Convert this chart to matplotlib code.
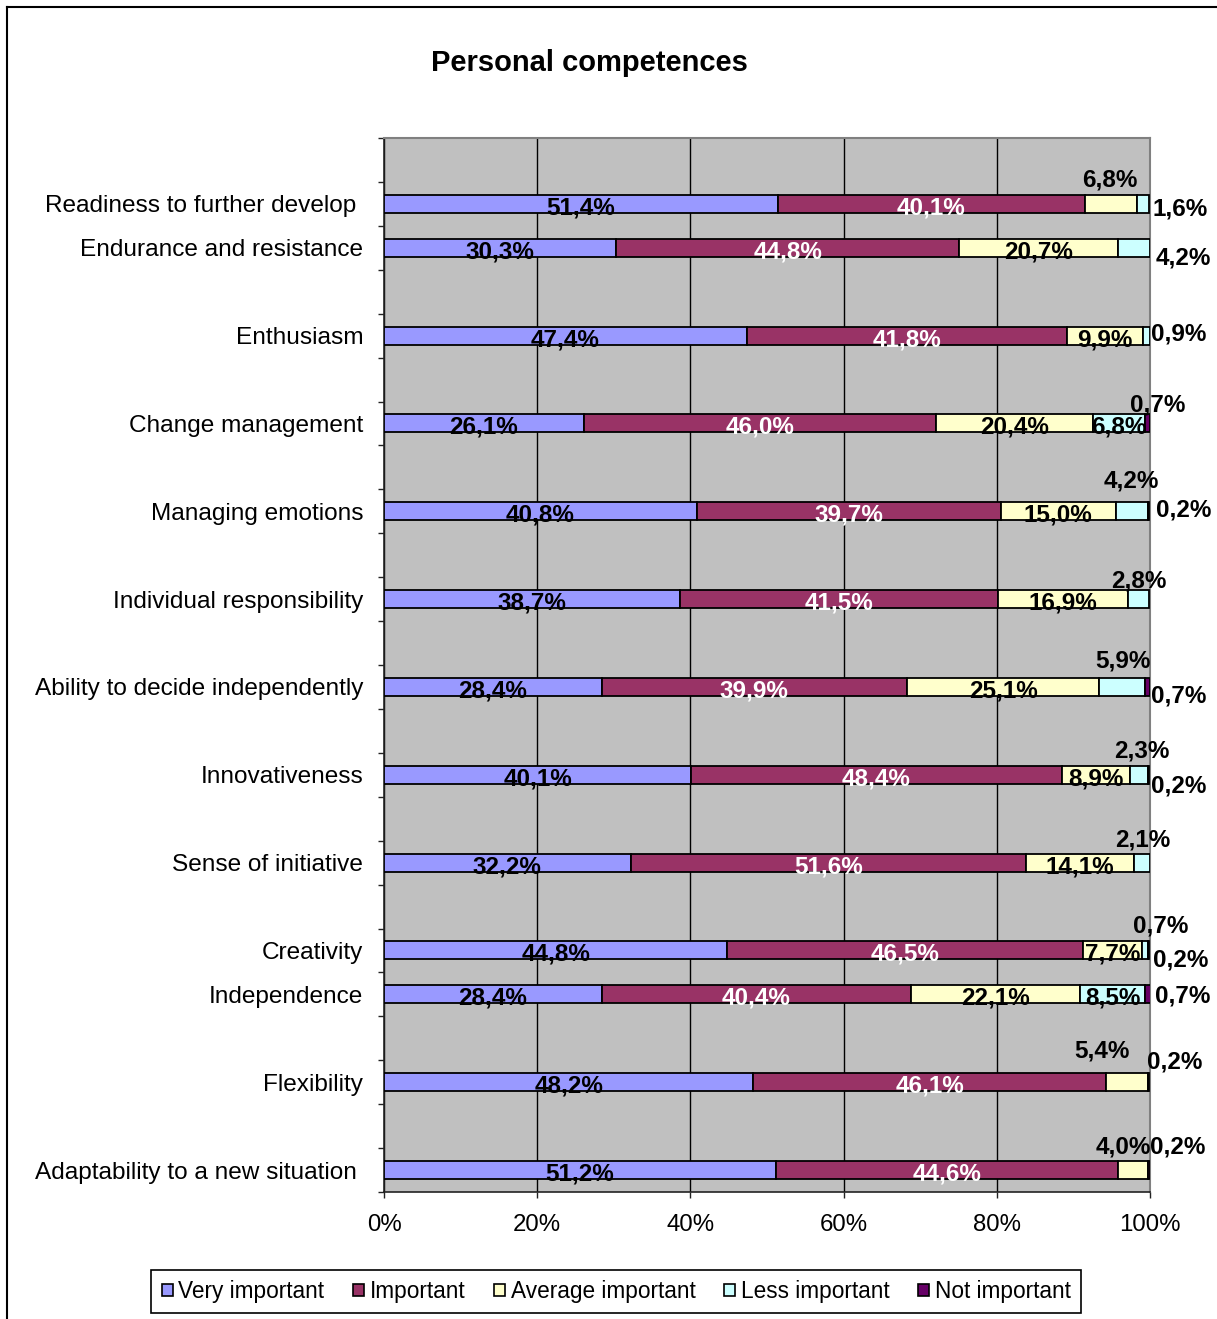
import matplotlib
matplotlib.use("Agg")
import matplotlib.pyplot as plt
from matplotlib.patches import Patch
from matplotlib.lines import Line2D
from matplotlib.ticker import FixedLocator

plt.rcParams['font.family'] = ['Liberation Sans', 'DejaVu Sans']

# ---------------- data ----------------
categories = ["Readiness to further develop ", "Endurance and resistance", "Enthusiasm",
              "Change management", "Managing emotions", "Individual responsibility",
              "Ability to decide independently", "Innovativeness", "Sense of initiative",
              "Creativity", "Independence", "Flexibility", "Adaptability to a new situation "]
series_names = ["Very important", "Important", "Average important", "Less important", "Not important"]
very_important = [51.4, 30.3, 47.4, 26.1, 40.8, 38.7, 28.4, 40.1, 32.2, 44.8, 28.4, 48.2, 51.2]
important = [40.1, 44.8, 41.8, 46.0, 39.7, 41.5, 39.9, 48.4, 51.6, 46.5, 40.4, 46.1, 44.6]
average_important = [6.8, 20.7, 9.9, 20.4, 15.0, 16.9, 25.1, 8.9, 14.1, 7.7, 22.1, 5.4, 4.0]
less_important = [1.6, 4.2, 0.9, 6.8, 4.2, 2.8, 5.9, 2.3, 2.1, 0.7, 8.5, 0.0, 0.0]
not_important = [0.0, 0.0, 0.0, 0.7, 0.2, 0.0, 0.7, 0.2, 0.0, 0.2, 0.7, 0.2, 0.2]
x_ticks = [0, 20, 40, 60, 80, 100]

# ---------------- layout / style ----------------
slot_index = [1, 2, 4, 6, 8, 10, 12, 14, 16, 18, 19, 21, 23]   # category slot on the axis (24 slots)
n_slots = 24
colors = ["#9999FF", "#993366", "#FFFFCC", "#CCFFFF", "#660066"]
label_colors = ["black", "white", "black", "black", "black"]
# outside data-label offsets in pixels (dx right, dy down) from segment centre
outside = {
    (0, 2): (-1, -24), (0, 3): (37, 5),
    (1, 3): (49, 10),
    (2, 3): (32, -2),
    (3, 4): (10, -18),
    (4, 3): (0, -30), (4, 4): (35, -1),
    (5, 3): (0, -18),
    (6, 3): (1, -26), (6, 4): (31, 9),
    (7, 3): (3, -24), (7, 4): (30, 11),
    (8, 3): (1, -23),
    (9, 3): (16, -24), (9, 4): (32, 10),
    (10, 4): (35, 2),
    (11, 2): (-25, -31), (11, 4): (26, -20),
    (12, 2): (-10, -23), (12, 4): (28, -23),
}

W, H = 1217, 1319
fig = plt.figure(figsize=(W / 100, H / 100), dpi=100)
fig.patch.set_facecolor("white")
L, R, T, B = 384, 1150, 138, 1192
ax = fig.add_axes([L / W, 1 - B / H, (R - L) / W, (B - T) / H])
ax.set_facecolor("#C0C0C0")

series = [very_important, important, average_important, less_important, not_important]
ypos = [s + 0.5 for s in slot_index]
lefts = [0.0] * len(categories)
bar_h = 0.41
for si, vals in enumerate(series):
    idx = [i for i, v in enumerate(vals) if v > 0]
    ax.barh([ypos[i] for i in idx], [vals[i] for i in idx], left=[lefts[i] for i in idx],
            height=bar_h, color=colors[si], edgecolor="black", linewidth=1.3, zorder=3)
    for i in idx:
        v = vals[i]
        cx = lefts[i] + v / 2
        txt = f"{v:.1f}%".replace(".", ",")
        if (i, si) in outside:
            dx, dy = outside[(i, si)]
            ax.annotate(txt, (cx, ypos[i]), xytext=(dx, -dy), textcoords="offset pixels",
                        ha="center", va="center", fontsize=17.5, fontweight="bold",
                        color="black", zorder=5, annotation_clip=False)
        else:
            ax.annotate(txt, (cx, ypos[i]), xytext=(0, -4), textcoords="offset pixels",
                        ha="center", va="center", fontsize=17.5, fontweight="bold",
                        color=label_colors[si], zorder=5)
    lefts = [lefts[i] + vals[i] for i in range(len(vals))]

ax.set_xlim(0, 100)
ax.set_ylim(n_slots, 0)
ax.set_xticks(x_ticks)
ax.set_xticklabels([f"{t}%" for t in x_ticks])
ax.set_yticks(ypos)
ax.set_yticklabels(categories)
ax.yaxis.set_minor_locator(FixedLocator(range(n_slots + 1)))
ax.tick_params(axis="y", which="major", length=0, pad=15, labelsize=17.6)
ax.tick_params(axis="y", which="minor", length=4.5, width=1, color="#222222", direction="out")
ax.tick_params(axis="x", which="major", length=4.5, width=1, color="#222222", direction="out",
               pad=11, labelsize=17.3)
ax.xaxis.grid(True, color="black", linewidth=1.0)
ax.set_axisbelow(True)
for s in ["left", "bottom"]:
    ax.spines[s].set_color("#222222")
    ax.spines[s].set_linewidth(1.2)
for s in ["right", "top"]:
    ax.spines[s].set_color("#808080")
    ax.spines[s].set_linewidth(1.5)

fig.text(589 / W, 1 - 63 / H, "Personal competences", ha="center", va="center",
         fontsize=21, fontweight="bold")

handles = [Patch(facecolor=c, edgecolor="black", linewidth=1.2) for c in colors]
leg = fig.legend(handles, series_names, loc="center", bbox_to_anchor=(616 / W, 1 - 1291.5 / H),
                 ncol=5, fontsize=16.3, frameon=True, fancybox=False, edgecolor="black",
                 framealpha=1, handlelength=0.5, handleheight=0.5, handletextpad=0.25,
                 columnspacing=1.25, borderpad=0.45)
leg.get_frame().set_linewidth(1.2)

# outer chart border (left and top visible)
fig.add_artist(Line2D([7 / W, 7 / W], [0, 1 - 7 / H], color="black", linewidth=1.5,
                      transform=fig.transFigure))
fig.add_artist(Line2D([7 / W, 1], [1 - 7 / H, 1 - 7 / H], color="black", linewidth=1.5,
                      transform=fig.transFigure))

fig.savefig("out.png", dpi=100)
